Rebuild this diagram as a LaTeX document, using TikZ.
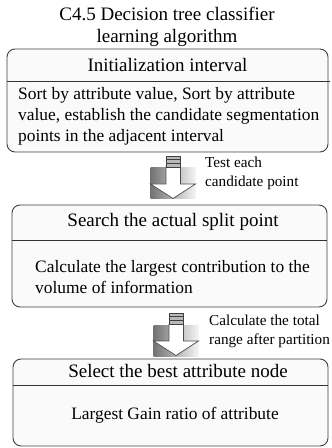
\documentclass[tikz,border=0pt]{standalone}
\usepackage{fontspec}
\setmainfont{Liberation Serif}
\begin{document}
\begin{tikzpicture}[x=1bp,y=-1bp,
  box/.style={draw=black!75, fill=black!2, rounded corners=8bp, line width=0.9bp, inner sep=0pt},
  divider/.style={draw=black!80, line width=0.8bp},
  hdr/.style={font=\fontsize{19bp}{22bp}\selectfont, inner sep=0pt, align=center},
  body/.style={font=\fontsize{17.4bp}{21bp}\selectfont, align=left, inner sep=0pt},
  lbl/.style={font=\fontsize{15.2bp}{19bp}\selectfont, align=left, inner sep=0pt, anchor=west},
  downicon/.pic={
    \shade[left color=black!55, right color=black!4] (-23,12) rectangle (22,43);
    \filldraw[fill=white, draw=black!70, line width=0.7bp]
      (-7.5,11) -- (-7.5,28) -- (-23,28) -- (-0.5,42.5) -- (22,28) -- (7,28) -- (7,11) -- cycle;
    \filldraw[fill=black!28, draw=black!75, line width=0.7bp] (-7.5,0) rectangle (7,11);
    \draw[black!75, line width=0.7bp] (-7.5,3.7) -- (7,3.7) (-7.5,7.3) -- (7,7.3);
  }]
\useasboundingbox (0,0) rectangle (331,448);

% title
\node[hdr] (title) at (167,27) {C4.5 Decision tree classifier\\learning algorithm};

% box 1
\node[box, minimum width=321bp, minimum height=103bp] (b1) at (167.5,100.5) {};
\draw[divider] (7,81) -- (330,81);
\node[hdr] (h1) at (167.5,65) {Initialization interval};
\node[body, anchor=west] (t1) at (18,116.5) {Sort by attribute value, Sort by attribute\\value, establish the candidate segmentation\\points in the adjacent interval};

% arrow 1
\coordinate (a1) at (173.5,156);
\pic at (a1) {downicon};
\node[lbl] (l1) at (205,173) {Test each\\candidate point};

% box 2
\node[box, minimum width=315bp, minimum height=102bp] (b2) at (169.5,256) {};
\draw[divider] (12,240) -- (327,240);
\node[hdr] (h2) at (173,222) {Search the actual split point};
\node[body, anchor=west] (t2) at (35,277) {Calculate the largest contribution to the\\volume of information};

% arrow 2
\coordinate (a2) at (176.5,313);
\pic at (a2) {downicon};
\node[lbl] (l2) at (209,331) {Calculate the total\\range after partition};

% box 3
\node[box, minimum width=315bp, minimum height=87bp] (b3) at (170.5,402.5) {};
\draw[divider] (13,385) -- (328,385);
\node[hdr] (h3) at (178,371) {Select the best attribute node};
\node[body] (t3) at (175,415.5) {Largest Gain ratio of attribute};
\end{tikzpicture}
\end{document}
